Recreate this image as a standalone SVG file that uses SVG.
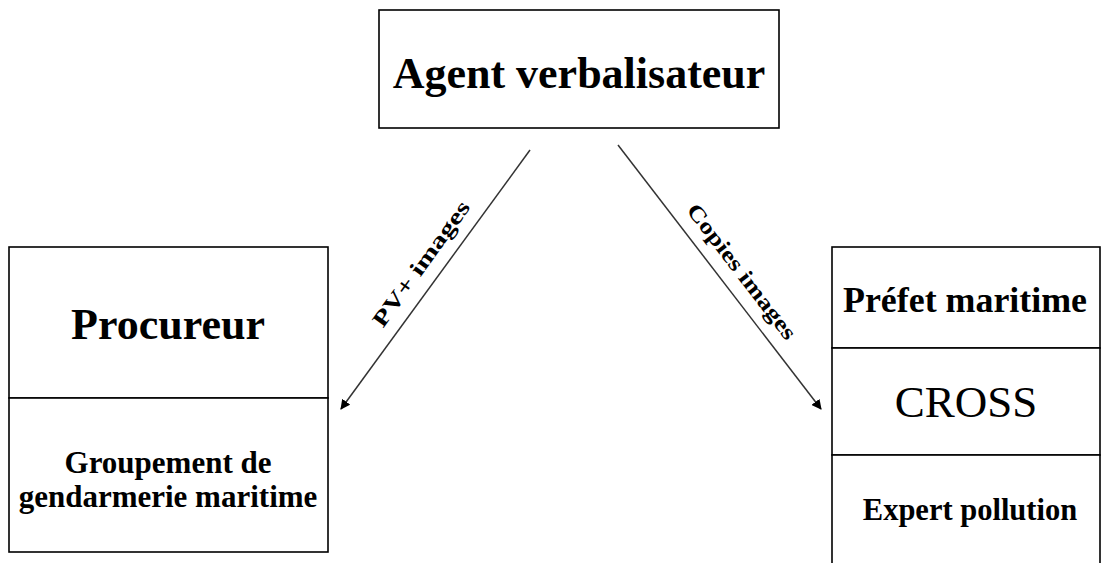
<svg xmlns="http://www.w3.org/2000/svg" width="1104" height="563" viewBox="0 0 1104 563">
<defs>
<marker id="ah" viewBox="0 0 10 10" refX="9" refY="5" markerWidth="10" markerHeight="10" markerUnits="userSpaceOnUse" orient="auto">
<path d="M0,0 L10,5 L0,10 z" fill="#000"/>
</marker>
<style>
.box{fill:#fff;stroke:#000;stroke-width:1.6}
.t{fill:#000;text-anchor:middle}
.b{font-weight:bold}
.conn{stroke:#333;stroke-width:1.5;fill:none}
</style>
</defs>
<rect width="1104" height="563" fill="#fff"/>
<g font-family="'Liberation Serif', 'DejaVu Serif', serif">
<g id="agent">
<rect class="box" x="379" y="10" width="400" height="118"/>
<text class="t b" x="579" y="88" font-size="44">Agent verbalisateur</text>
</g>
<g id="procureur">
<rect class="box" x="9" y="247" width="319" height="151"/>
<text class="t b" x="168" y="339" font-size="44">Procureur</text>
</g>
<g id="gendarmerie">
<rect class="box" x="9" y="398" width="319" height="154"/>
<text class="t b" x="168" y="473" font-size="31">Groupement de</text>
<text class="t b" x="168" y="507" font-size="31">gendarmerie maritime</text>
</g>
<g id="prefet">
<rect class="box" x="832" y="247" width="268" height="101"/>
<text class="t b" x="965" y="312" font-size="35" textLength="244" lengthAdjust="spacingAndGlyphs">Préfet maritime</text>
</g>
<g id="cross">
<rect class="box" x="832" y="348" width="268" height="107"/>
<text class="t" x="966" y="417" font-size="45">CROSS</text>
</g>
<g id="expert">
<rect class="box" x="832" y="455" width="268" height="120"/>
<text class="t b" x="970" y="520" font-size="30.5">Expert pollution</text>
</g>
<g id="connectors">
<line class="conn" x1="530" y1="150" x2="341" y2="409" marker-end="url(#ah)"/>
<line class="conn" x1="618" y1="145" x2="821" y2="409" marker-end="url(#ah)"/>
<text class="t b" font-size="22" transform="translate(427,268) rotate(-54)" textLength="150" lengthAdjust="spacingAndGlyphs">PV+ images</text>
<text class="t b" font-size="22" transform="translate(736,276) rotate(52.5)" textLength="165" lengthAdjust="spacingAndGlyphs">Copies images</text>
</g>
</g>
</svg>
